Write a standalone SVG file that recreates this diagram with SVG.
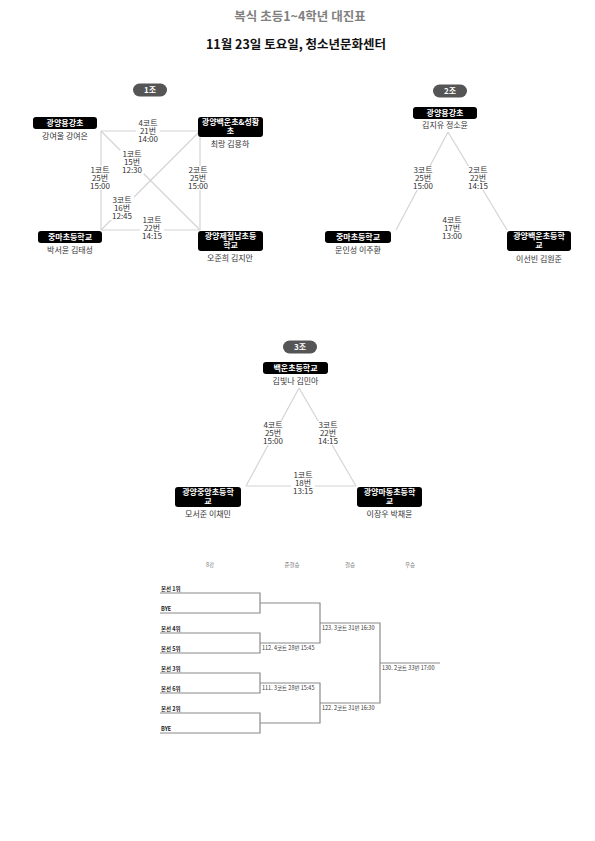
<svg xmlns="http://www.w3.org/2000/svg" width="595" height="841" viewBox="0 0 595 841">
<style>
text{font-family:"Noto Sans CJK KR","Noto Sans",sans-serif;}
.t1{font-size:12.5px;font-weight:bold;fill:#808080;}
.t2{font-size:12.5px;font-weight:bold;fill:#111;}
.badge rect{fill:#555;}
.badge text{font-size:8px;font-weight:bold;fill:#fff;text-anchor:middle;}
.box{fill:#000;}
.bt{font-size:8px;font-weight:bold;fill:#fff;text-anchor:middle;}
.nm{font-size:8px;fill:#333;text-anchor:middle;}
.edge{stroke:#d4d4d4;stroke-width:1.2;fill:none;}
.lbl rect{fill:#fff;}
.lbl text{font-size:8px;fill:#333;text-anchor:middle;}
.br{stroke:#8a8a8a;stroke-width:1.2;fill:none;}
.bh{font-size:5.5px;fill:#777;text-anchor:middle;}
.be{font-size:5.5px;font-weight:bold;fill:#222;}
.bl{font-size:5.5px;fill:#333;}
</style>

<text class="t1" x="300" y="21" text-anchor="middle">복식 초등1~4학년 대진표</text>
<text class="t2" x="296" y="49" text-anchor="middle">11월 23일 토요일, 청소년문화센터</text>

<!-- connectors -->
<g id="connectors">
  <line class="edge" x1="101" y1="131" x2="200" y2="131"/>
  <line class="edge" x1="101" y1="131" x2="101" y2="230"/>
  <line class="edge" x1="200" y1="131" x2="200" y2="230"/>
  <line class="edge" x1="101" y1="230" x2="200" y2="230"/>
  <line class="edge" x1="101" y1="131" x2="200" y2="230"/>
  <line class="edge" x1="200" y1="131" x2="101" y2="230"/>
  <line class="edge" x1="448" y1="132" x2="396" y2="230"/>
  <line class="edge" x1="448" y1="132" x2="507" y2="230"/>
  <line class="edge" x1="299" y1="388" x2="246" y2="486"/>
  <line class="edge" x1="299" y1="388" x2="356" y2="486"/>
  <line class="edge" x1="246" y1="486" x2="356" y2="486"/>
</g>

<!-- edge labels -->
<g id="labels">
  <g class="lbl"><rect x="136" y="119" width="24" height="24"/><text x="148" y="126">4코트<tspan x="148" dy="8">21번</tspan><tspan x="148" dy="8">14:00</tspan></text></g>
  <g class="lbl"><rect x="120" y="150" width="24" height="24"/><text x="132" y="157">1코트<tspan x="132" dy="8">15번</tspan><tspan x="132" dy="8">12:30</tspan></text></g>
  <g class="lbl"><rect x="88" y="166" width="24" height="24"/><text x="100" y="173">1코트<tspan x="100" dy="8">25번</tspan><tspan x="100" dy="8">15:00</tspan></text></g>
  <g class="lbl"><rect x="186" y="166" width="24" height="24"/><text x="198" y="173">2코트<tspan x="198" dy="8">25번</tspan><tspan x="198" dy="8">15:00</tspan></text></g>
  <g class="lbl"><rect x="110" y="196" width="24" height="24"/><text x="122" y="203">3코트<tspan x="122" dy="8">16번</tspan><tspan x="122" dy="8">12:45</tspan></text></g>
  <g class="lbl"><rect x="140" y="216" width="24" height="24"/><text x="152" y="223">1코트<tspan x="152" dy="8">22번</tspan><tspan x="152" dy="8">14:15</tspan></text></g>

  <g class="lbl"><rect x="411" y="166" width="24" height="24"/><text x="423" y="173">3코트<tspan x="423" dy="8">25번</tspan><tspan x="423" dy="8">15:00</tspan></text></g>
  <g class="lbl"><rect x="466" y="166" width="24" height="24"/><text x="478" y="173">2코트<tspan x="478" dy="8">22번</tspan><tspan x="478" dy="8">14:15</tspan></text></g>
  <g class="lbl"><rect x="440" y="216" width="24" height="24"/><text x="452" y="223">4코트<tspan x="452" dy="8">17번</tspan><tspan x="452" dy="8">13:00</tspan></text></g>

  <g class="lbl"><rect x="261" y="421" width="24" height="24"/><text x="273" y="428">4코트<tspan x="273" dy="8">25번</tspan><tspan x="273" dy="8">15:00</tspan></text></g>
  <g class="lbl"><rect x="316" y="421" width="24" height="24"/><text x="328" y="428">3코트<tspan x="328" dy="8">22번</tspan><tspan x="328" dy="8">14:15</tspan></text></g>
  <g class="lbl"><rect x="291" y="471" width="24" height="24"/><text x="303" y="478">1코트<tspan x="303" dy="8">18번</tspan><tspan x="303" dy="8">13:15</tspan></text></g>
</g>

<!-- badges -->
<g id="badge1" class="badge"><rect x="133" y="83.5" width="34" height="13" rx="6.5"/><text x="150" y="93">1조</text></g>
<g id="badge2" class="badge"><rect x="433" y="84.5" width="34" height="13" rx="6.5"/><text x="450" y="94">2조</text></g>
<g id="badge3" class="badge"><rect x="283" y="340.5" width="34" height="13" rx="6.5"/><text x="300" y="350">3조</text></g>

<!-- group 1 nodes -->
<g id="g1-n1"><rect class="box" x="33" y="117" width="64" height="12" rx="3"/><text class="bt" x="65" y="126">광양용강초</text><text class="nm" x="65" y="139">강여울 강여은</text></g>
<g id="g1-n2"><rect class="box" x="198" y="117" width="65" height="20" rx="3"/><text class="bt" x="230.5" y="125">광양백운초&amp;성황<tspan x="230.5" dy="9">초</tspan></text><text class="nm" x="230" y="147">최랑 김용하</text></g>
<g id="g1-n3"><rect class="box" x="38" y="231" width="64" height="12" rx="3"/><text class="bt" x="70" y="240">중마초등학교</text><text class="nm" x="70" y="253">박서윤 김태성</text></g>
<g id="g1-n4"><rect class="box" x="198" y="231" width="65" height="20" rx="3"/><text class="bt" x="230.5" y="239">광양제철남초등<tspan x="230.5" dy="9">학교</tspan></text><text class="nm" x="230" y="261">오준희 김지안</text></g>

<!-- group 2 nodes -->
<g id="g2-n1"><rect class="box" x="413" y="107" width="64" height="12" rx="3"/><text class="bt" x="445" y="116">광양용강초</text><text class="nm" x="445" y="128">김지유 정소윤</text></g>
<g id="g2-n2"><rect class="box" x="325" y="231" width="66" height="12" rx="3"/><text class="bt" x="358" y="240">중마초등학교</text><text class="nm" x="358" y="253">문인성 이주환</text></g>
<g id="g2-n3"><rect class="box" x="507" y="231" width="64" height="20" rx="3"/><text class="bt" x="539" y="239">광양백운초등학<tspan x="539" dy="9">교</tspan></text><text class="nm" x="539" y="262">이선빈 김원준</text></g>

<!-- group 3 nodes -->
<g id="g3-n1"><rect class="box" x="263" y="362" width="65" height="12" rx="3"/><text class="bt" x="295.5" y="371">백운초등학교</text><text class="nm" x="295.5" y="384">김빛나 김민아</text></g>
<g id="g3-n2"><rect class="box" x="175" y="487" width="66" height="20" rx="3"/><text class="bt" x="208" y="495">광양중앙초등학<tspan x="208" dy="9">교</tspan></text><text class="nm" x="208" y="517">모서준 이채민</text></g>
<g id="g3-n3"><rect class="box" x="357" y="487" width="65" height="20" rx="3"/><text class="bt" x="389.5" y="495">광양마동초등학<tspan x="389.5" dy="9">교</tspan></text><text class="nm" x="389.5" y="517">이장우 박채윤</text></g>

<!-- bracket -->
<g id="bracket">
  <text class="bh" x="210" y="567">8강</text>
  <text class="bh" x="292" y="567">준결승</text>
  <text class="bh" x="350" y="567">결승</text>
  <text class="bh" x="410" y="567">우승</text>

  <path class="br" d="M160 593H260V613H160 M160 633H260V653H160 M160 673H260V693H160 M160 713H260V733H160"/>
  <path class="br" d="M260 603H320V643H260 M260 683H320V723H260"/>
  <path class="br" d="M320 623H380V703H320 M380 663H440"/>

  <text class="be" x="161" y="591">본선 1위</text>
  <text class="be" x="161" y="611">BYE</text>
  <text class="be" x="161" y="631">본선 4위</text>
  <text class="be" x="161" y="651">본선 5위</text>
  <text class="be" x="161" y="671">본선 3위</text>
  <text class="be" x="161" y="691">본선 6위</text>
  <text class="be" x="161" y="711">본선 2위</text>
  <text class="be" x="161" y="731">BYE</text>

  <text class="bl" x="262" y="650">112. 4코트 28번 15:45</text>
  <text class="bl" x="262" y="690">111. 3코트 28번 15:45</text>
  <text class="bl" x="322" y="630">123. 3코트 31번 16:30</text>
  <text class="bl" x="322" y="710">122. 2코트 31번 16:30</text>
  <text class="bl" x="382" y="670">130. 2코트 33번 17:00</text>
</g>
</svg>
